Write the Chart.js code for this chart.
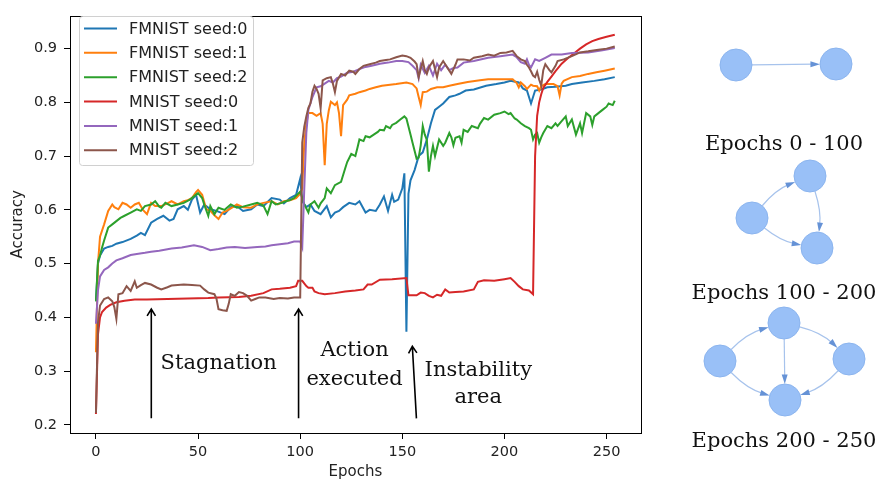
<!DOCTYPE html>
<html>
<head>
<meta charset="utf-8">
<script src="https://cdn.jsdelivr.net/npm/chart.js@4.4.0/dist/chart.umd.min.js"></script>
<style>
    html, body { margin: 0; padding: 0; background: #fff; }
    #wrap { width: 878px; height: 485px; }
</style>
</head>
<body>
<div id="wrap"><canvas id="accChart" width="878" height="485"></canvas></div>
<script>
// Accuracy per epoch, [epoch, accuracy]
const fmnistSeed0 = [[0,0.43],[1,0.50],[2,0.515],[4,0.528],[6,0.531],[8,0.533],[10,0.537],[13,0.54],[17,0.546],[20,0.552],[22,0.557],[24,0.553],[27,0.576],[30,0.583],[33,0.589],[36,0.58],[38,0.583],[40,0.601],[43,0.607],[45,0.6],[47,0.619],[49,0.628],[51,0.595],[53,0.61],[56,0.601],[59,0.598],[63,0.592],[66,0.605],[69,0.607],[72,0.598],[76,0.601],[79,0.61],[82,0.607],[86,0.622],[90,0.619],[92,0.612],[95,0.622],[98,0.628],[100,0.658],[101,0.616],[103,0.605],[105,0.61],[107,0.598],[110,0.592],[113,0.607],[115,0.586],[117,0.595],[119,0.598],[121,0.605],[124,0.613],[127,0.61],[129,0.616],[132,0.595],[134,0.6],[137,0.598],[139,0.61],[141,0.625],[143,0.598],[145,0.628],[146,0.615],[148,0.619],[150,0.64],[151,0.668],[152,0.373],[153,0.63],[154,0.655],[156,0.674],[158,0.70],[160,0.707],[162,0.731],[164,0.761],[166,0.786],[168,0.792],[170,0.798],[173,0.81],[176,0.813],[178,0.816],[181,0.822],[185,0.824],[191,0.831],[196,0.834],[200,0.837],[203,0.84],[207,0.837],[209,0.826],[211,0.822],[213,0.798],[215,0.822],[218,0.824],[221,0.828],[225,0.829],[230,0.831],[233,0.834],[238,0.837],[244,0.84],[249,0.843],[254,0.847]];
const fmnistSeed1 = [[0,0.335],[1,0.50],[2,0.55],[4,0.573],[6,0.598],[8,0.61],[9,0.605],[11,0.601],[13,0.613],[15,0.61],[17,0.604],[19,0.61],[21,0.613],[23,0.6],[25,0.592],[27,0.613],[29,0.607],[32,0.607],[35,0.612],[37,0.616],[40,0.61],[43,0.616],[45,0.618],[47,0.622],[49,0.633],[50,0.637],[52,0.628],[54,0.601],[56,0.598],[58,0.59],[60,0.583],[62,0.595],[64,0.598],[67,0.605],[69,0.61],[72,0.605],[76,0.604],[79,0.61],[82,0.613],[86,0.616],[89,0.61],[92,0.616],[95,0.618],[98,0.622],[100,0.63],[101,0.64],[102,0.725],[103,0.76],[104,0.78],[106,0.78],[108,0.775],[110,0.78],[111,0.76],[112,0.683],[113,0.76],[114,0.785],[115,0.801],[117,0.795],[118,0.80],[119,0.78],[120,0.737],[121,0.795],[123,0.805],[124,0.813],[127,0.816],[129,0.819],[132,0.822],[134,0.825],[137,0.828],[140,0.831],[144,0.833],[147,0.834],[152,0.837],[155,0.834],[157,0.826],[158,0.81],[159,0.795],[160,0.819],[162,0.82],[164,0.825],[167,0.828],[170,0.828],[173,0.831],[177,0.834],[182,0.838],[188,0.841],[192,0.843],[200,0.843],[204,0.843],[206,0.836],[207,0.828],[208,0.837],[210,0.83],[211,0.825],[213,0.833],[214,0.831],[216,0.83],[217,0.822],[218,0.83],[220,0.834],[224,0.834],[226,0.83],[227,0.813],[228,0.835],[229,0.84],[233,0.847],[237,0.849],[241,0.853],[245,0.856],[249,0.859],[254,0.863]];
const fmnistSeed2 = [[0,0.43],[1,0.505],[2,0.515],[3,0.53],[4,0.543],[6,0.567],[8,0.573],[10,0.579],[12,0.585],[14,0.589],[17,0.595],[20,0.601],[22,0.598],[24,0.607],[27,0.61],[29,0.616],[31,0.606],[32,0.604],[34,0.613],[37,0.607],[40,0.61],[43,0.613],[46,0.619],[48,0.625],[50,0.631],[52,0.622],[53,0.61],[55,0.589],[56,0.607],[58,0.592],[60,0.604],[63,0.6],[66,0.61],[69,0.604],[72,0.606],[76,0.61],[79,0.613],[82,0.608],[84,0.592],[86,0.616],[88,0.61],[91,0.613],[93,0.616],[95,0.618],[97,0.622],[100,0.634],[101,0.622],[102,0.61],[104,0.595],[105,0.61],[107,0.616],[109,0.604],[110,0.612],[112,0.622],[113,0.64],[115,0.631],[117,0.646],[120,0.652],[122,0.677],[123,0.689],[125,0.704],[127,0.70],[128,0.715],[129,0.731],[131,0.728],[132,0.737],[134,0.735],[136,0.74],[138,0.745],[139,0.749],[141,0.748],[142,0.756],[144,0.752],[145,0.758],[147,0.762],[149,0.768],[151,0.774],[152,0.77],[153,0.755],[154,0.74],[155,0.725],[156,0.71],[157,0.695],[158,0.697],[159,0.72],[160,0.756],[161,0.74],[162,0.73],[163,0.671],[164,0.70],[165,0.719],[166,0.70],[168,0.731],[170,0.719],[171,0.725],[173,0.743],[174,0.735],[175,0.72],[176,0.734],[178,0.737],[179,0.725],[180,0.749],[182,0.745],[184,0.756],[187,0.752],[188,0.76],[190,0.771],[192,0.768],[195,0.777],[198,0.78],[200,0.783],[202,0.778],[203,0.78],[205,0.77],[206,0.768],[208,0.761],[210,0.756],[212,0.752],[213,0.749],[214,0.731],[215,0.74],[216,0.743],[217,0.725],[218,0.735],[219,0.743],[221,0.756],[223,0.752],[225,0.761],[226,0.756],[228,0.765],[230,0.774],[231,0.756],[233,0.768],[235,0.74],[237,0.761],[238,0.743],[240,0.78],[242,0.774],[243,0.758],[244,0.774],[246,0.78],[248,0.786],[250,0.792],[251,0.798],[253,0.795],[254,0.803]];
const mnistSeed0 = [[0,0.22],[1,0.368],[2,0.40],[3,0.41],[5,0.418],[7,0.423],[10,0.428],[14,0.431],[19,0.433],[25,0.433],[35,0.434],[45,0.435],[55,0.436],[60,0.437],[70,0.438],[76,0.44],[82,0.445],[86,0.452],[90,0.453],[95,0.455],[98,0.458],[99,0.468],[101,0.468],[103,0.458],[104,0.455],[106,0.455],[107,0.448],[109,0.445],[112,0.443],[117,0.445],[122,0.448],[127,0.45],[131,0.452],[133,0.461],[135,0.461],[139,0.47],[145,0.471],[152,0.473],[153,0.441],[157,0.441],[159,0.446],[161,0.445],[163,0.44],[165,0.437],[167,0.442],[169,0.44],[171,0.452],[173,0.446],[176,0.447],[180,0.448],[185,0.452],[187,0.466],[190,0.469],[195,0.468],[200,0.471],[203,0.473],[205,0.466],[207,0.458],[209,0.452],[212,0.45],[214,0.443],[215,0.70],[216,0.775],[217,0.80],[218,0.815],[219,0.827],[221,0.838],[223,0.848],[225,0.858],[228,0.872],[231,0.882],[234,0.891],[237,0.9],[240,0.908],[243,0.914],[246,0.918],[250,0.922],[254,0.926]];
const mnistSeed1 = [[0,0.388],[1,0.45],[2,0.476],[4,0.488],[6,0.493],[8,0.5],[10,0.506],[13,0.51],[17,0.516],[20,0.518],[24,0.52],[27,0.522],[31,0.524],[37,0.528],[42,0.53],[48,0.534],[52,0.531],[56,0.525],[60,0.527],[64,0.53],[68,0.531],[73,0.529],[79,0.531],[83,0.532],[86,0.534],[90,0.536],[94,0.538],[97,0.541],[100,0.541],[101,0.53],[102,0.64],[103,0.743],[104,0.786],[106,0.81],[108,0.828],[110,0.83],[112,0.835],[114,0.84],[116,0.837],[118,0.845],[120,0.848],[123,0.855],[126,0.857],[129,0.862],[132,0.866],[135,0.868],[139,0.872],[143,0.874],[147,0.877],[150,0.877],[153,0.875],[155,0.868],[157,0.86],[158,0.845],[159,0.87],[161,0.855],[163,0.868],[165,0.85],[167,0.872],[169,0.86],[171,0.87],[173,0.86],[175,0.864],[177,0.865],[180,0.874],[185,0.877],[192,0.883],[198,0.886],[204,0.889],[206,0.884],[208,0.875],[210,0.872],[211,0.88],[212,0.87],[213,0.865],[215,0.88],[217,0.877],[220,0.883],[223,0.889],[228,0.889],[233,0.892],[241,0.893],[248,0.897],[254,0.901]];
const mnistSeed2 = [[0,0.222],[1,0.39],[2,0.422],[4,0.434],[6,0.437],[8,0.43],[9,0.419],[10,0.397],[11,0.443],[13,0.445],[15,0.458],[17,0.449],[19,0.467],[20,0.455],[22,0.46],[24,0.464],[27,0.461],[30,0.455],[32,0.452],[35,0.456],[37,0.459],[40,0.46],[43,0.461],[47,0.46],[51,0.459],[53,0.452],[55,0.446],[58,0.443],[59,0.435],[60,0.415],[62,0.413],[64,0.412],[65,0.425],[66,0.443],[68,0.44],[70,0.447],[72,0.445],[74,0.44],[76,0.431],[78,0.434],[80,0.437],[83,0.437],[87,0.434],[90,0.436],[94,0.435],[97,0.437],[100,0.437],[101,0.725],[102,0.755],[103,0.774],[104,0.79],[105,0.798],[106,0.82],[107,0.831],[108,0.825],[109,0.816],[110,0.789],[111,0.841],[113,0.845],[115,0.847],[116,0.835],[117,0.819],[118,0.84],[120,0.853],[122,0.85],[124,0.859],[126,0.857],[127,0.853],[129,0.862],[131,0.868],[134,0.871],[137,0.874],[139,0.877],[142,0.879],[144,0.88],[147,0.884],[150,0.887],[152,0.886],[154,0.883],[156,0.876],[157,0.871],[158,0.847],[159,0.862],[160,0.877],[161,0.86],[162,0.853],[163,0.865],[165,0.877],[166,0.862],[167,0.847],[168,0.865],[170,0.877],[172,0.865],[174,0.853],[176,0.87],[177,0.88],[180,0.88],[183,0.878],[185,0.883],[189,0.886],[192,0.889],[195,0.887],[198,0.892],[201,0.893],[204,0.896],[206,0.886],[208,0.88],[210,0.877],[211,0.87],[212,0.865],[213,0.858],[214,0.85],[215,0.847],[216,0.857],[217,0.842],[218,0.831],[219,0.86],[220,0.871],[222,0.86],[223,0.856],[225,0.868],[226,0.877],[229,0.88],[233,0.886],[237,0.893],[241,0.895],[246,0.898],[250,0.9],[254,0.904]];

const seriesNames = ["FMNIST seed:0", "FMNIST seed:1", "FMNIST seed:2", "MNIST seed:0", "MNIST seed:1", "MNIST seed:2"];
const seriesColors = ["#1f77b4", "#ff7f0e", "#2ca02c", "#d62728", "#9467bd", "#8c564b"];
const seriesData = [fmnistSeed0, fmnistSeed1, fmnistSeed2, mnistSeed0, mnistSeed1, mnistSeed2];

const xTickValues = [0, 50, 100, 150, 200, 250];
const yTickValues = [0.2, 0.3, 0.4, 0.5, 0.6, 0.7, 0.8, 0.9];

// annotations: text lines, centre epoch, baseline accuracy per line
const notes = [
    { lines: ["Stagnation"], x: 60.1, y: [0.304] },
    { lines: ["Action", "executed"], x: 126.6, y: [0.3275, 0.2747] },
    { lines: ["Instability", "area"], x: 187.2, y: [0.291, 0.2406] }
];
// arrows: [from epoch, from acc, to epoch, to acc]
const noteArrows = [[27.1, 0.212, 27.1, 0.4155], [99.2, 0.212, 99.2, 0.4155], [156.9, 0.212, 154.9, 0.346]];

// matplotlib-like 5% margins
var allX = [], allY = [];
seriesData.forEach(function(s) { s.forEach(function(p) { allX.push(p[0]); allY.push(p[1]); }); });
var xMin = Math.min.apply(null, allX), xMax = Math.max.apply(null, allX);
var yMin = Math.min.apply(null, allY), yMax = Math.max.apply(null, allY);
var xPad = (xMax - xMin) * 0.05, yPad = (yMax - yMin) * 0.05;

// small graph sketches on the right
const graphs = [
    { label: "Epochs 0 - 100", labelY: 150, nodes: [[736, 65], [836, 64]], edges: [[0, 1, 0]] },
    { label: "Epochs 100 - 200", labelY: 299, nodes: [[752, 218], [810, 176], [817, 248]], edges: [[0, 1, -9], [1, 2, -8], [0, 2, 9]] },
    { label: "Epochs 200 - 250", labelY: 447, nodes: [[720, 361], [784, 323], [849, 359], [785, 400]], edges: [[0, 1, -10], [1, 2, -10], [1, 3, 0], [0, 3, 10], [2, 3, -10]] }
];

function drawOpenArrow(ctx, x1, y1, x2, y2) {
    var a = Math.atan2(y2 - y1, x2 - x1), h = 8;
    ctx.beginPath();
    ctx.moveTo(x1, y1);
    ctx.lineTo(x2, y2);
    ctx.moveTo(x2 - h * Math.cos(a - 0.55), y2 - h * Math.sin(a - 0.55));
    ctx.lineTo(x2, y2);
    ctx.lineTo(x2 - h * Math.cos(a + 0.55), y2 - h * Math.sin(a + 0.55));
    ctx.stroke();
}

function drawGraph(ctx, g) {
    var r = 16;
    g.edges.forEach(function(e) {
        var a = g.nodes[e[0]], b = g.nodes[e[1]];
        var mx = (a[0] + b[0]) / 2, my = (a[1] + b[1]) / 2;
        var dx = b[0] - a[0], dy = b[1] - a[1], len = Math.hypot(dx, dy);
        var cx = mx + (-dy / len) * e[2], cy = my + (dx / len) * e[2];
        var sdx = cx - a[0], sdy = cy - a[1], sl = Math.hypot(sdx, sdy);
        var edx = b[0] - cx, edy = b[1] - cy, el = Math.hypot(edx, edy);
        var sx = a[0] + sdx / sl * r, sy = a[1] + sdy / sl * r;
        var ex = b[0] - edx / el * r, ey = b[1] - edy / el * r;
        ctx.strokeStyle = "#a7c3ec";
        ctx.lineWidth = 1.2;
        ctx.beginPath();
        ctx.moveTo(sx, sy);
        ctx.quadraticCurveTo(cx, cy, ex - edx / el * 6, ey - edy / el * 6);
        ctx.stroke();
        var ang = Math.atan2(edy, edx), h = 10;
        ctx.fillStyle = "#6592d6";
        ctx.beginPath();
        ctx.moveTo(ex, ey);
        ctx.lineTo(ex - h * Math.cos(ang - 0.3), ey - h * Math.sin(ang - 0.3));
        ctx.lineTo(ex - h * Math.cos(ang + 0.3), ey - h * Math.sin(ang + 0.3));
        ctx.closePath();
        ctx.fill();
    });
    g.nodes.forEach(function(n) {
        ctx.beginPath();
        ctx.arc(n[0], n[1], r, 0, Math.PI * 2);
        ctx.fillStyle = "#99c0f7";
        ctx.fill();
        ctx.strokeStyle = "#8bb4ee";
        ctx.lineWidth = 1;
        ctx.stroke();
    });
    ctx.fillStyle = "#111";
    ctx.font = "21px 'DejaVu Serif'";
    ctx.textAlign = "center";
    ctx.textBaseline = "alphabetic";
    ctx.fillText(g.label, 784, g.labelY);
}

const extrasPlugin = {
    id: "extras",
    afterDraw: function(chart) {
        var ctx = chart.ctx, area = chart.chartArea;
        var xs = chart.scales.x, ys = chart.scales.y;
        ctx.save();

        // frame
        ctx.strokeStyle = "#000";
        ctx.lineWidth = 1;
        ctx.strokeRect(Math.round(area.left) + 0.5, Math.round(area.top) + 0.5,
            Math.round(area.right - area.left), Math.round(area.bottom - area.top));

        // legend
        ctx.fillStyle = "rgba(255,255,255,0.85)";
        ctx.strokeStyle = "#d0d0d0";
        ctx.beginPath();
        ctx.roundRect(79.5, 16.5, 174, 149, 3);
        ctx.fill();
        ctx.stroke();
        ctx.font = "16px 'DejaVu Sans'";
        ctx.textBaseline = "middle";
        ctx.textAlign = "left";
        seriesNames.forEach(function(name, i) {
            var y = 28.5 + i * 24.35;
            ctx.strokeStyle = seriesColors[i];
            ctx.lineWidth = 2;
            ctx.beginPath();
            ctx.moveTo(84, y);
            ctx.lineTo(117, y);
            ctx.stroke();
            ctx.fillStyle = "#222";
            ctx.fillText(name, 129, y + 1);
        });

        // annotations
        ctx.strokeStyle = "#000";
        ctx.lineWidth = 1.6;
        noteArrows.forEach(function(a) {
            drawOpenArrow(ctx, xs.getPixelForValue(a[0]), ys.getPixelForValue(a[1]),
                xs.getPixelForValue(a[2]), ys.getPixelForValue(a[3]));
        });
        ctx.fillStyle = "#111";
        ctx.font = "21px 'DejaVu Serif'";
        ctx.textAlign = "center";
        ctx.textBaseline = "alphabetic";
        notes.forEach(function(n) {
            n.lines.forEach(function(t, k) {
                ctx.fillText(t, xs.getPixelForValue(n.x), ys.getPixelForValue(n.y[k]));
            });
        });

        graphs.forEach(function(g) { drawGraph(ctx, g); });
        ctx.restore();
    }
};

var datasets = seriesData.map(function(s, i) {
    return {
        label: seriesNames[i],
        data: s.map(function(p) { return { x: p[0], y: p[1] }; }),
        borderColor: seriesColors[i],
        backgroundColor: seriesColors[i],
        borderWidth: 2,
        pointRadius: 0,
        tension: 0,
        order: seriesData.length - i
    };
});

new Chart(document.getElementById("accChart"), {
    type: "line",
    data: { datasets: datasets },
    options: {
        responsive: false,
        animation: false,
        devicePixelRatio: 1,
        layout: { padding: { left: 0, top: 7.5, right: 237.3, bottom: 0 } },
        plugins: { legend: { display: false }, tooltip: { enabled: false } },
        font: { family: "'DejaVu Sans'" },
        scales: {
            x: {
                type: "linear",
                min: xMin - xPad,
                max: xMax + xPad,
                afterBuildTicks: function(s) { s.ticks = xTickValues.map(function(v) { return { value: v }; }); },
                afterFit: function(s) { s.height = 52; },
                border: { display: false },
                grid: { display: true, drawOnChartArea: false, drawTicks: true, tickLength: 6, color: "#000" },
                ticks: { color: "#222", font: { family: "'DejaVu Sans'", size: 14.5 }, padding: 5, maxRotation: 0 },
                title: { display: true, text: "Epochs", color: "#222", font: { family: "'DejaVu Sans'", size: 15 }, padding: { top: 4, bottom: 4 } }
            },
            y: {
                type: "linear",
                min: yMin - yPad,
                max: yMax + yPad,
                afterBuildTicks: function(s) { s.ticks = yTickValues.map(function(v) { return { value: v }; }); },
                afterFit: function(s) { s.width = 70; },
                border: { display: false },
                grid: { display: true, drawOnChartArea: false, drawTicks: true, tickLength: 6, color: "#000" },
                ticks: { color: "#222", font: { family: "'DejaVu Sans'", size: 14.5 }, padding: 7,
                    callback: function(v) { return v.toFixed(1); } },
                title: { display: true, text: "Accuracy", color: "#222", font: { family: "'DejaVu Sans'", size: 15 }, padding: { top: 9, bottom: 0 } }
            }
        }
    },
    plugins: [extrasPlugin]
});
</script>
</body>
</html>
